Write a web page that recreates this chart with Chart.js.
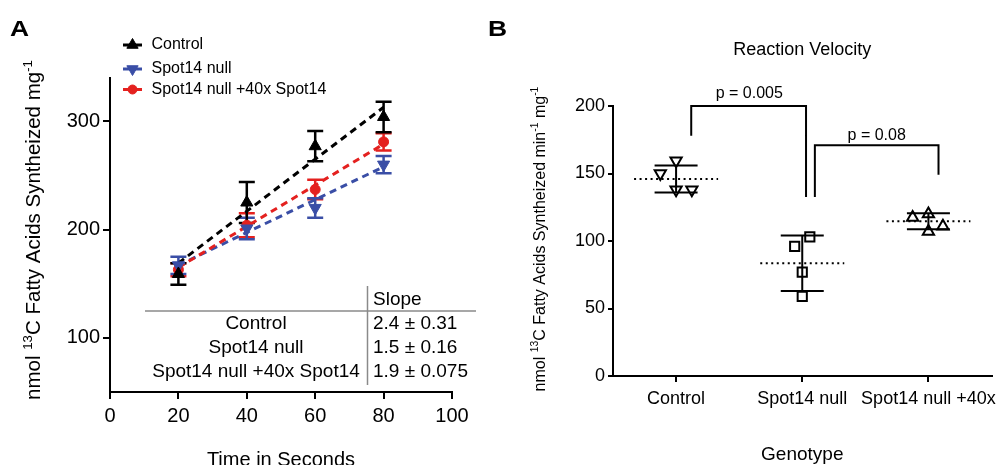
<!DOCTYPE html>
<html><head><meta charset="utf-8">
<script src="https://cdn.jsdelivr.net/npm/chart.js@4"></script>
<style>
html,body{margin:0;padding:0;background:#fff;overflow:hidden;width:1000px;height:465px}
#a{position:absolute;left:0;top:0}
#b{position:absolute;left:480px;top:0}
</style></head><body>
<canvas id="a" width="480" height="465"></canvas>
<canvas id="b" width="520" height="465"></canvas>
<script>
// ---------- Panel A data ----------
const timePoints = [20, 40, 60, 80];
const controlMean = [159, 225, 277, 304];
const controlErr  = [10, 19, 14, 14];
const nullMean    = [167, 201, 220, 260];
const nullErr     = [8, 10, 9, 8];
const rescueMean  = [163, 204, 237, 281];
const rescueErr   = [6, 11, 9, 8];
const fitX        = [20, 80];
const controlFit  = [169, 313];
const nullFit     = [167, 258];
const rescueFit   = [165, 279];
const seriesNames = ['Control', 'Spot14 null', 'Spot14 null +40x Spot14'];
const slopeHeader = 'Slope';
const slopeText   = ['2.4 ± 0.31', '1.5 ± 0.16', '1.9 ± 0.075'];
const xTicksA     = [0, 20, 40, 60, 80, 100];
const yTicksA     = [100, 200, 300];

// ---------- Panel B data ----------
const genotypes     = ['Control', 'Spot14 null', 'Spot14 null +40x'];
const controlVals   = [159.5, 150, 138, 138];
const controlJitter = [0, -0.125, 0, 0.125];
const nullVals      = [103, 96, 77, 59];
const nullJitter    = [0.06, -0.06, 0, 0];
const rescueVals    = [117.5, 120, 111, 107];
const rescueJitter  = [-0.125, 0, 0.115, 0];
const groupMeans    = [146, 83.5, 114.6];
const groupSD       = [10, 20.5, 5.9];
const yTicksB       = [0, 50, 100, 150, 200];
const bracket1X     = [0.12, 0.12, 1.03, 1.03];
const bracket1Y     = [178, 200, 200, 132.6];
const bracket2X     = [1.10, 1.10, 2.08, 2.08];
const bracket2Y     = [132.6, 171, 171, 149];
const pLabels       = ['p = 0.005', 'p = 0.08'];
const pLabelX       = [0.58, 1.59];
const pLabelY       = [209, 178];

const FONT = "'Liberation Sans', Arial, Helvetica, sans-serif";
const BLACK = '#000', BLUE = '#3a4ea6', RED = '#e4211f';

function drawRotRich(ctx, parts, cx, cy, size) {
  ctx.save();
  ctx.translate(cx, cy);
  ctx.rotate(-Math.PI / 2);
  const sup = size * 0.65;
  let total = 0;
  parts.forEach(p => { ctx.font = (p.s ? sup : size) + 'px ' + FONT; p.w = ctx.measureText(p.t).width; total += p.w; });
  let x = -total / 2;
  ctx.textAlign = 'left'; ctx.textBaseline = 'alphabetic'; ctx.fillStyle = '#000';
  parts.forEach(p => {
    ctx.font = (p.s ? sup : size) + 'px ' + FONT;
    ctx.fillText(p.t, x, p.s ? size * 0.35 - size * 0.42 : size * 0.35);
    x += p.w;
  });
  ctx.restore();
}
function panelLetter(ctx, txt, x, baseline) {
  ctx.save();
  ctx.translate(x, baseline);
  ctx.scale(1.2, 1);
  ctx.font = 'bold 22px ' + FONT;
  ctx.fillStyle = '#000'; ctx.textAlign = 'left'; ctx.textBaseline = 'alphabetic';
  ctx.fillText(txt, 0, 0);
  ctx.restore();
}
function fixPad(s) { s.paddingLeft = 0; s.paddingRight = 0; s.paddingTop = 0; s.paddingBottom = 0; }

// ---------- Panel A ----------
const errA = {
  id: 'errA',
  beforeDatasetsDraw(chart) {
    const { ctx, scales: { x, y } } = chart;
    const groups = [[rescueMean, rescueErr, RED], [nullMean, nullErr, BLUE], [controlMean, controlErr, BLACK]];
    ctx.save();
    ctx.lineWidth = 2.5;
    groups.forEach(([m, e, c]) => {
      ctx.strokeStyle = c;
      timePoints.forEach((t, i) => {
        const px = x.getPixelForValue(t);
        const top = y.getPixelForValue(m[i] + e[i]);
        const bot = y.getPixelForValue(m[i] - e[i]);
        ctx.beginPath();
        ctx.moveTo(px, top); ctx.lineTo(px, bot);
        ctx.moveTo(px - 8, top); ctx.lineTo(px + 8, top);
        ctx.moveTo(px - 8, bot); ctx.lineTo(px + 8, bot);
        ctx.stroke();
      });
    });
    ctx.restore();
  },
  afterDraw(chart) {
    const ctx = chart.ctx;
    const xs = chart.scales.x;
    panelLetter(ctx, 'A', 10, 36);
    // legend
    const rows = [[45, BLACK, 'triangle', 0, 6.5], [69, BLUE, 'triangle', 180, 6.5], [89.5, RED, 'circle', 0, 4.5]];
    rows.forEach(([yy, c, st, rot, r], i) => {
      ctx.save();
      ctx.strokeStyle = c; ctx.lineWidth = 3;
      ctx.beginPath(); ctx.moveTo(123, yy); ctx.lineTo(142, yy); ctx.stroke();
      ctx.fillStyle = c; ctx.lineWidth = 1;
      Chart.helpers.drawPoint(ctx, { pointStyle: st, radius: r, rotation: rot, borderWidth: 1 }, 132.5, yy);
      ctx.font = '16px ' + FONT; ctx.fillStyle = '#000';
      ctx.textAlign = 'left'; ctx.textBaseline = 'middle';
      ctx.fillText(seriesNames[i], 151.5, yy);
      ctx.restore();
    });
    // table
    ctx.save();
    ctx.strokeStyle = '#8a8a8a'; ctx.lineWidth = 1.5;
    ctx.beginPath();
    ctx.moveTo(367.5, 286); ctx.lineTo(367.5, 385);
    ctx.moveTo(145, 311); ctx.lineTo(476, 311);
    ctx.stroke();
    ctx.font = '19px ' + FONT; ctx.fillStyle = '#000'; ctx.textBaseline = 'middle';
    ctx.textAlign = 'left';
    ctx.fillText(slopeHeader, 373, 300);
    const ry = [323.5, 348, 371.5];
    seriesNames.forEach((n, i) => {
      ctx.textAlign = 'center'; ctx.fillText(n, 256, ry[i]);
      ctx.textAlign = 'left'; ctx.fillText(slopeText[i], 373, ry[i]);
    });
    // x title
    ctx.font = '20px ' + FONT; ctx.textAlign = 'center'; ctx.textBaseline = 'alphabetic';
    ctx.fillText('Time in Seconds', (xs.left + xs.right) / 2, 466);
    ctx.restore();
    drawRotRich(ctx, [{ t: 'nmol ' }, { t: '13', s: 1 }, { t: 'C Fatty Acids Syntheized mg' }, { t: '-1', s: 1 }], 33, 230, 20.5);
  }
};

const ptsA = (xs, ys) => xs.map((x, i) => ({ x, y: ys[i] }));
new Chart(document.getElementById('a'), {
  type: 'scatter',
  data: {
    datasets: [
      { data: ptsA(timePoints, controlMean), pointStyle: 'triangle', pointRadius: 7, backgroundColor: BLACK, borderColor: BLACK, borderWidth: 1 },
      { data: ptsA(timePoints, nullMean), pointStyle: 'triangle', rotation: 180, pointRadius: 7, backgroundColor: BLUE, borderColor: BLUE, borderWidth: 1 },
      { data: ptsA(timePoints, rescueMean), pointStyle: 'circle', pointRadius: 5, backgroundColor: RED, borderColor: RED, borderWidth: 1 },
      { data: ptsA(fitX, controlFit), showLine: true, borderColor: BLACK, borderDash: [7, 5], borderWidth: 3, pointRadius: 0 },
      { data: ptsA(fitX, rescueFit), showLine: true, borderColor: RED, borderDash: [7, 5], borderWidth: 3, pointRadius: 0 },
      { data: ptsA(fitX, nullFit), showLine: true, borderColor: BLUE, borderDash: [7, 5], borderWidth: 3, pointRadius: 0 }
    ]
  },
  options: {
    responsive: false, animation: false, devicePixelRatio: 1,
    layout: { padding: { left: 0, top: 78, right: 28, bottom: 0 } },
    plugins: { legend: { display: false }, tooltip: { enabled: false } },
    scales: {
      x: {
        type: 'linear', min: 0, max: 100,
        afterBuildTicks: s => { s.ticks = xTicksA.map(v => ({ value: v })); },
        afterFit: s => { s.height = 73; fixPad(s); },
        grid: { drawOnChartArea: false, drawTicks: true, tickLength: 7, color: BLACK, lineWidth: 2 },
        border: { display: true, color: BLACK, width: 2 },
        ticks: { color: BLACK, font: { family: FONT, size: 20 }, padding: 5, maxRotation: 0 }
      },
      y: {
        type: 'linear', min: 50, max: 340,
        afterBuildTicks: s => { s.ticks = yTicksA.map(v => ({ value: v })); },
        afterFit: s => { s.width = 110; fixPad(s); },
        grid: { drawOnChartArea: false, drawTicks: true, tickLength: 7, color: BLACK, lineWidth: 2 },
        border: { display: true, color: BLACK, width: 2 },
        ticks: { color: BLACK, font: { family: FONT, size: 20 }, padding: 3 }
      }
    }
  },
  plugins: [errA]
});

// ---------- Panel B ----------
const decoB = {
  id: 'decoB',
  beforeDatasetsDraw(chart) {
    const { ctx, scales: { x, y } } = chart;
    ctx.save();
    ctx.strokeStyle = '#000';
    groupMeans.forEach((m, i) => {
      const px = x.getPixelForValue(i);
      ctx.lineWidth = 2; ctx.setLineDash([2, 3.5]);
      const py = y.getPixelForValue(m);
      ctx.beginPath(); ctx.moveTo(px - 42, py); ctx.lineTo(px + 42, py); ctx.stroke();
      ctx.setLineDash([]);
      const top = y.getPixelForValue(m + groupSD[i]);
      const bot = y.getPixelForValue(m - groupSD[i]);
      ctx.beginPath();
      ctx.moveTo(px, top); ctx.lineTo(px, bot);
      ctx.moveTo(px - 21.5, top); ctx.lineTo(px + 21.5, top);
      ctx.moveTo(px - 21.5, bot); ctx.lineTo(px + 21.5, bot);
      ctx.stroke();
    });
    ctx.lineWidth = 2;
    [[bracket1X, bracket1Y], [bracket2X, bracket2Y]].forEach(([bx, by]) => {
      ctx.beginPath();
      bx.forEach((v, i) => {
        const px = x.getPixelForValue(v), py = y.getPixelForValue(by[i]);
        if (i === 0) ctx.moveTo(px, py); else ctx.lineTo(px, py);
      });
      ctx.stroke();
    });
    ctx.font = '16px ' + FONT; ctx.fillStyle = '#000'; ctx.textAlign = 'center'; ctx.textBaseline = 'middle';
    pLabels.forEach((t, i) => ctx.fillText(t, x.getPixelForValue(pLabelX[i]), y.getPixelForValue(pLabelY[i])));
    ctx.restore();
  },
  afterDraw(chart) {
    const ctx = chart.ctx;
    const xs = chart.scales.x;
    panelLetter(ctx, 'B', 8, 36);
    ctx.save();
    ctx.fillStyle = '#000'; ctx.textAlign = 'center'; ctx.textBaseline = 'alphabetic';
    ctx.font = '18px ' + FONT;
    ctx.fillText('Reaction Velocity', (xs.left + xs.right) / 2, 55);
    ctx.font = '19px ' + FONT;
    ctx.fillText('Genotype', (xs.left + xs.right) / 2, 460);
    ctx.restore();
    drawRotRich(ctx, [{ t: 'nmol ' }, { t: '13', s: 1 }, { t: 'C Fatty Acids Syntheized min' }, { t: '-1', s: 1 }, { t: ' mg' }, { t: '-1', s: 1 }], 59, 239, 16);
  }
};
const ptsB = (g, vals, jit) => vals.map((v, i) => ({ x: g + jit[i], y: v }));
const openPt = { backgroundColor: 'rgba(0,0,0,0)', borderColor: BLACK, borderWidth: 2 };
new Chart(document.getElementById('b'), {
  type: 'scatter',
  data: {
    datasets: [
      Object.assign({ data: ptsB(0, controlVals, controlJitter), pointStyle: 'triangle', rotation: 180, pointRadius: 6.5 }, openPt),
      Object.assign({ data: ptsB(1, nullVals, nullJitter), pointStyle: 'rect', pointRadius: 6.5 }, openPt),
      Object.assign({ data: ptsB(2, rescueVals, rescueJitter), pointStyle: 'triangle', pointRadius: 6.5 }, openPt)
    ]
  },
  options: {
    responsive: false, animation: false, devicePixelRatio: 1,
    layout: { padding: { left: 0, top: 106, right: 7, bottom: 0 } },
    plugins: { legend: { display: false }, tooltip: { enabled: false } },
    scales: {
      x: {
        type: 'linear', min: -0.5, max: 2.5,
        afterBuildTicks: s => { s.ticks = genotypes.map((g, i) => ({ value: i })); },
        afterFit: s => { s.height = 89; fixPad(s); },
        grid: { drawOnChartArea: false, drawTicks: true, tickLength: 6, color: BLACK, lineWidth: 2 },
        border: { display: true, color: BLACK, width: 2 },
        ticks: { color: BLACK, font: { family: FONT, size: 18 }, padding: 6, maxRotation: 0, autoSkip: false,
                 callback: v => genotypes[v] }
      },
      y: {
        type: 'linear', min: 0, max: 200,
        afterBuildTicks: s => { s.ticks = yTicksB.map(v => ({ value: v })); },
        afterFit: s => { s.width = 133; fixPad(s); },
        grid: { drawOnChartArea: false, drawTicks: true, tickLength: 5, color: BLACK, lineWidth: 2 },
        border: { display: true, color: BLACK, width: 2 },
        ticks: { color: BLACK, font: { family: FONT, size: 18 }, padding: 3 }
      }
    }
  },
  plugins: [decoB]
});
</script>
</body></html>
